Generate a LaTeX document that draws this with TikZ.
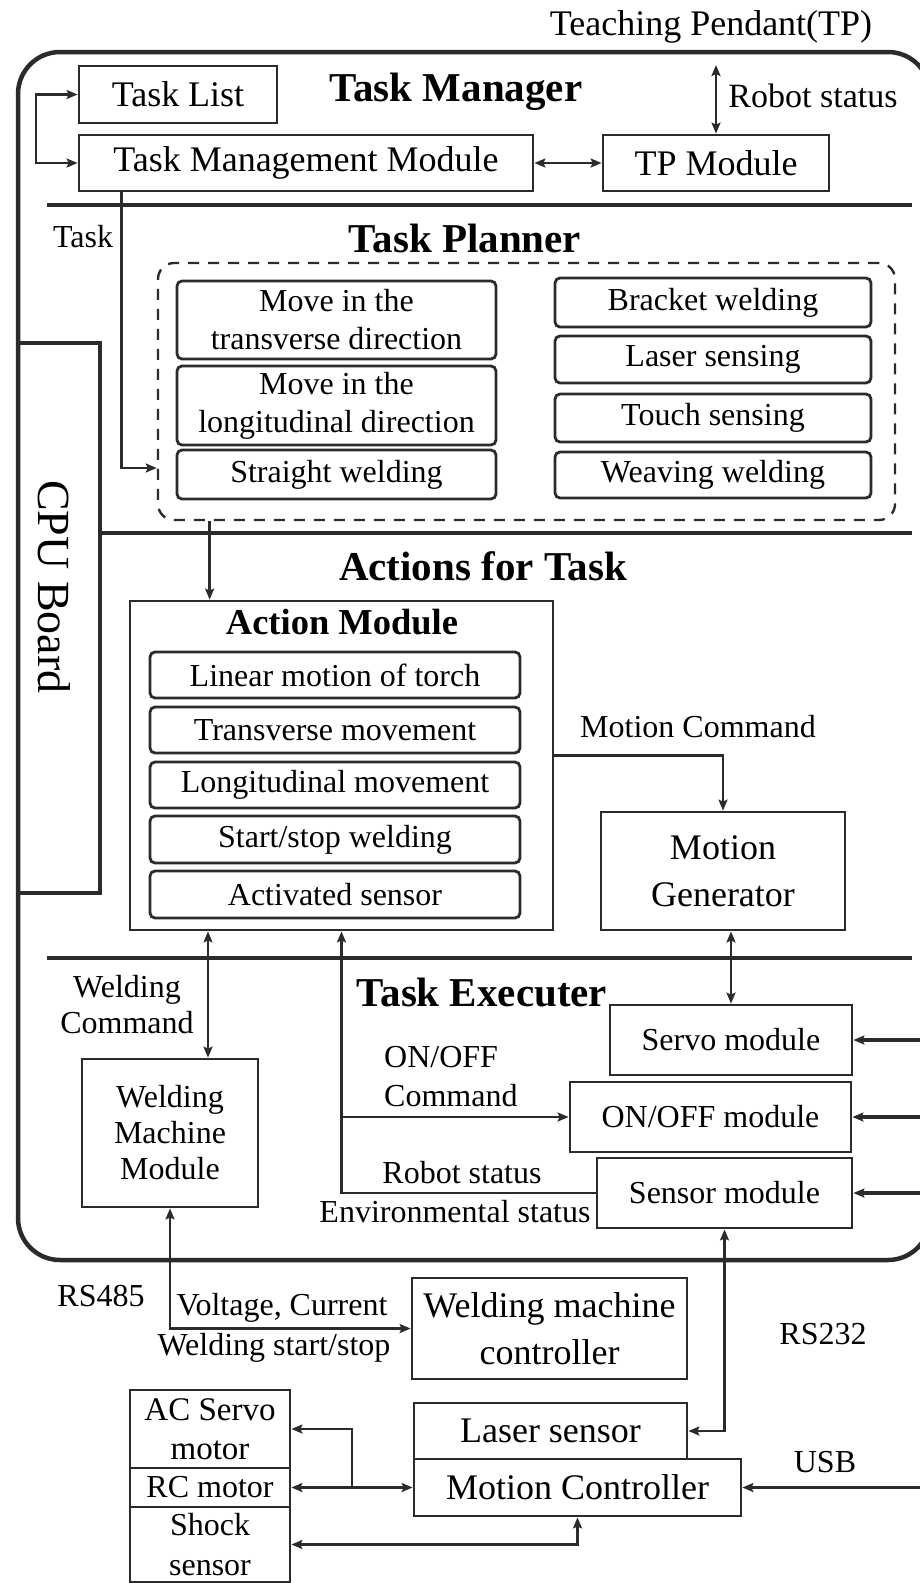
\documentclass[tikz,border=0pt]{standalone}
\usepackage{fontspec}
\setmainfont{Liberation Serif}
\usetikzlibrary{arrows.meta,calc}

\definecolor{ink}{HTML}{2B2B2B}

\begin{document}
\begin{tikzpicture}[x=1pt,y=-1pt,
  box/.style={draw=ink, line width=2.8pt, inner sep=0pt, align=center},
  rbox/.style={box, rounded corners=5pt},
  fA/.style={font=\fontsize{36}{44}\selectfont},
  fB/.style={font=\fontsize{32}{38}\selectfont},
  ttl/.style={inner sep=0pt, font=\fontsize{41}{46}\selectfont\bfseries},
  lbl/.style={inner sep=0pt, align=center},
  conn/.style={draw=ink, line width=2.5pt},
  connthick/.style={draw=ink, line width=3.2pt},
  arr/.style={-{Stealth[length=11pt,width=9pt,inset=2pt]}},
  arrs/.style={{Stealth[length=11pt,width=9pt,inset=2pt]}-{Stealth[length=11pt,width=9pt,inset=2pt]}},
  sepline/.style={draw=ink, line width=4.5pt},
]
\useasboundingbox (0,0) rectangle (920,1583);

% ---------- CPU board frame and section rules ----------
\draw[draw=ink, line width=4.5pt, rounded corners=42pt] (18,52) rectangle (930,1260);
\node[draw=ink, line width=4.5pt, inner sep=0pt, minimum width=82pt, minimum height=550pt] (cpu) at (59,618) {};
\node[rotate=-90, inner sep=0pt, font=\fontsize{46}{50}\selectfont] (cpulbl) at (54,587) {CPU Board};
\draw[sepline] (47,205) -- (912,205);
\draw[sepline] (cpu.east |- 0,533) -- (912,533);
\draw[sepline] (47,958) -- (912,958);

% ---------- Task Manager ----------
\node[lbl, fA] (tp) at (711,27) {Teaching Pendant(TP)};
\node[box, fA, minimum width=198pt, minimum height=57pt] (tasklist) at (178,94.5) {Task List};
\node[ttl] (tman) at (456,92) {Task Manager};
\node[box, fA, minimum width=454pt, minimum height=56pt] (tmm) at (306,163) {Task Management Module};
\node[box, fA, minimum width=226pt, minimum height=56pt] (tpm) at (716,163) {TP Module};
\coordinate (tpend) at (716,65);
\node[lbl, font=\fontsize{34}{38}\selectfont] (rsa) at (813,96) {Robot status};
\coordinate (loopx) at (36,0);
\draw[conn, arrs] (tasklist.west) -- (tasklist.west -| loopx) |- (tmm.west);
\draw[conn, arrs] (tmm.east) -- (tpm.west);
\draw[conn, arrs] (tpm.north) -- (tpend);

% ---------- Task Planner ----------
\node[lbl, fB] (tasklbl) at (83,237) {Task};
\node[ttl] (tplan) at (465,238) {Task Planner};
\node[draw=ink, line width=2.4pt, dash pattern=on 11pt off 9pt, rounded corners=16pt,
      inner sep=0pt, minimum width=737pt, minimum height=257pt] (planner) at (526.5,391.5) {};
\node[rbox, fB, minimum width=319pt, minimum height=78pt] (mtd) at (336.5,320) {Move in the\\transverse direction};
\node[rbox, fB, minimum width=319pt, minimum height=79pt] (mld) at (336.5,405.5) {Move in the\\longitudinal direction};
\node[rbox, fB, minimum width=319pt, minimum height=49pt] (sw) at (336.5,474.5) {Straight welding};
\node[rbox, fB, minimum width=316pt, minimum height=49pt] (bw) at (713,302.5) {Bracket welding};
\node[rbox, fB, minimum width=316pt, minimum height=47pt] (lsn) at (713,359.5) {Laser sensing};
\node[rbox, fB, minimum width=316pt, minimum height=48pt] (tsn) at (713,418) {Touch sensing};
\node[rbox, fB, minimum width=316pt, minimum height=46pt] (ww) at (713,475) {Weaving welding};
\coordinate (taskin) at ($(planner.west |- sw.west)+(0,-6.5)$);
\draw[conn, arr] ($(tmm.south west)+(44,0)$) |- (taskin);

% ---------- Actions for Task ----------
\node[ttl] (aft) at (483,566) {Actions for Task};
\node[box, minimum width=423pt, minimum height=329pt] (am) at (341.5,765.5) {};
\node[lbl, font=\fontsize{36.5}{40}\selectfont\bfseries] (amt) at (342,622) {Action Module};
\node[rbox, fB, minimum width=370pt, minimum height=46pt] (lmt) at (335,675) {Linear motion of torch};
\node[rbox, fB, minimum width=370pt, minimum height=46pt] (trm) at (335,730) {Transverse movement};
\node[rbox, fB, minimum width=370pt, minimum height=46pt] (lgm) at (335,785) {Longitudinal movement};
\node[rbox, fB, minimum width=370pt, minimum height=47pt] (ssw) at (335,839.5) {Start/stop welding};
\node[rbox, fB, minimum width=370pt, minimum height=47pt] (acts) at (335,894.5) {Activated sensor};
\coordinate (amin) at ($(am.north west)+(81,0)$);
\draw[conn, arr] (amin |- planner.south) -- (amin);

\node[lbl, fB] (mcl) at (698,727) {Motion Command};
\node[box, font=\fontsize{36}{47}\selectfont, minimum width=244pt, minimum height=118pt] (mg) at (723,871) {Motion\\Generator};
\draw[conn, arr] ($(am.east)+(0,-10)$) -| (mg.north);

% ---------- Task Executer ----------
\node[lbl, font=\fontsize{32}{36}\selectfont] (wcl) at (127,1005) {Welding\\Command};
\node[box, font=\fontsize{32}{36}\selectfont, minimum width=176pt, minimum height=148pt] (wmm) at (170,1133) {Welding\\Machine\\Module};
\coordinate (wmx) at (208,0);
\draw[conn, arrs] (am.south -| wmx) -- (wmm.north -| wmx);
\node[ttl] (tex) at (482,993) {Task Executer};
\node[box, fB, minimum width=242pt, minimum height=70pt] (servo) at (731,1040) {Servo module};
\node[box, fB, minimum width=281pt, minimum height=70pt] (onoff) at (710.5,1117) {ON/OFF module};
\node[box, fB, minimum width=255pt, minimum height=70pt] (sensor) at (724.5,1193) {Sensor module};
\draw[conn, arrs] (mg.south -| servo.north) -- (servo.north);
\draw[conn, arr] (sensor.west) -| (am.south);
\draw[conn, arr] (am.south |- onoff.west) -- (onoff.west);
\node[lbl, anchor=west, align=left, font=\fontsize{32}{39}\selectfont] (oncl) at (384,1077) {ON/OFF\\Command};
\node[lbl, fB] (rsb) at (462,1173) {Robot status};
\node[lbl, fB] (envs) at (455,1212) {Environmental status};
\coordinate (redge) at (924,0);
\draw[connthick, arr] (servo.east -| redge) -- (servo.east);
\draw[connthick, arr] (onoff.east -| redge) -- (onoff.east);
\draw[connthick, arr] (sensor.east -| redge) -- (sensor.east);

% ---------- External devices ----------
\node[lbl, fB] (rs485) at (101,1296) {RS485};
\node[box, font=\fontsize{36}{47}\selectfont, minimum width=275pt, minimum height=101pt] (wmc) at (549.5,1328.5) {Welding machine\\controller};
\draw[conn, arrs] (wmm.south) |- (wmc.west);
\node[lbl, fB] (vc) at (282,1308) {Voltage, Current};
\node[lbl, fB] (wss) at (274,1348) {Welding start/stop};
\node[lbl, fB] (rs232) at (823,1334) {RS232};
\node[box, fA, minimum width=273pt, minimum height=56pt] (laser) at (550.5,1431) {Laser sensor};
\node[box, fA, minimum width=327pt, minimum height=57pt] (mc) at (577.5,1487.5) {Motion Controller};
\draw[conn, arrs] (sensor.south) |- (laser.east);
\node[lbl, fB] (usb) at (825,1462) {USB};
\draw[connthick, arr] (mc.east -| redge) -- (mc.east);

\node[box, font=\fontsize{33}{39}\selectfont, minimum width=160pt, minimum height=78pt] (acs) at (210,1429) {AC Servo\\motor};
\node[box, fB, minimum width=160pt, minimum height=39pt] (rcm) at (210,1487.5) {RC motor};
\node[box, font=\fontsize{32}{40}\selectfont, minimum width=160pt, minimum height=75pt] (shk) at (210,1544.5) {Shock\\sensor};
\coordinate (j) at (352,1487.5);
\draw[conn, arrs] (acs.east) -| (j) -- (mc.west);
\draw[conn, arr] (j) -- (rcm.east);
\draw[conn, arrs] (shk.east) -| (mc.south);
\end{tikzpicture}
\end{document}
